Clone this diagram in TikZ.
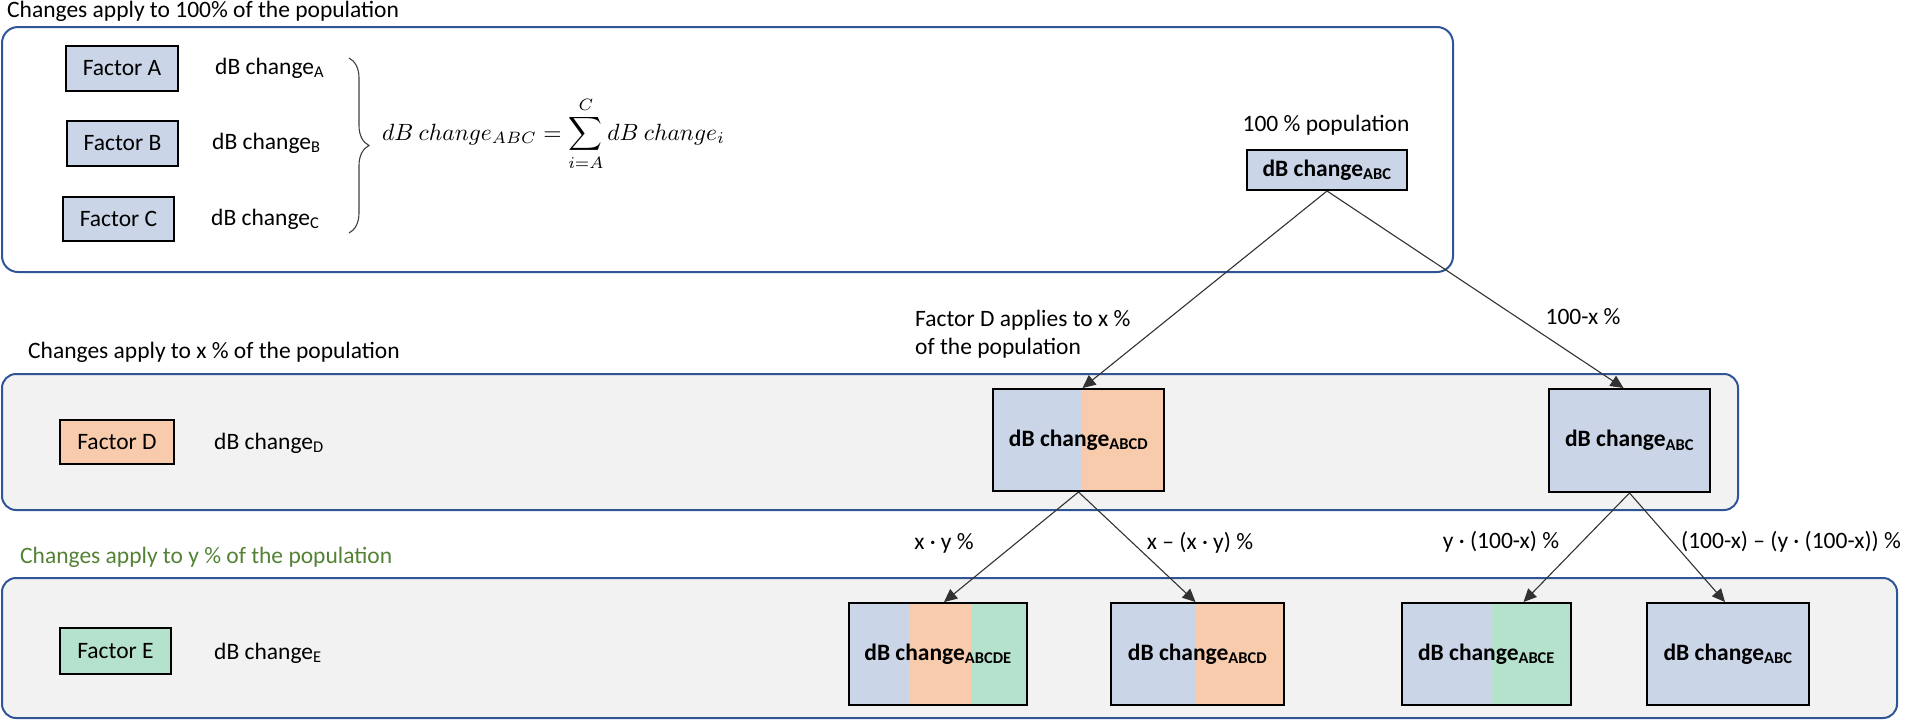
\documentclass[tikz,border=0pt]{standalone}
\usepackage{fontspec}
\setmainfont{Carlito}
\usetikzlibrary{arrows.meta,calc,decorations.pathreplacing}
\definecolor{cblue}{RGB}{203,213,232}
\definecolor{corange}{RGB}{248,203,173}
\definecolor{cgreen}{RGB}{180,226,204}
\definecolor{cpanel}{RGB}{47,85,151}
\definecolor{cpanelfill}{RGB}{242,242,242}
\definecolor{ctitlegreen}{RGB}{84,130,53}
\definecolor{carrow}{RGB}{50,50,50}
\newcommand\myfs{\fontsize{23.5}{28}\selectfont}
\tikzset{
  panel/.style={draw=cpanel, line width=2pt, rounded corners=16pt},
  fbox/.style={draw=black, line width=2pt, inner sep=0pt, font=\myfs},
  plain/.style={inner sep=0pt, font=\myfs},
  rbox/.style={draw=black, line width=2pt, inner sep=0pt, font=\myfs\bfseries, fill=cblue},
  twocol/.style 2 args={path picture={\fill[#1] ($(path picture bounding box.north west)!#2!(path picture bounding box.north east)$) rectangle (path picture bounding box.south east);}},
  threecol/.style n args={2}{path picture={
     \fill[corange] ($(path picture bounding box.north west)!#1!(path picture bounding box.north east)$) rectangle (path picture bounding box.south east);
     \fill[cgreen] ($(path picture bounding box.north west)!#2!(path picture bounding box.north east)$) rectangle (path picture bounding box.south east);}},
  arr/.style={draw=carrow, line width=1.1pt, -{Triangle[length=13pt,width=12pt]}},
}
\begin{document}
\begin{tikzpicture}[x=1pt,y=-1pt]
\useasboundingbox (0,0) rectangle (1913,721);
% panels
\draw[panel, fill=white] (2,27) rectangle (1453,272);
\draw[panel, fill=cpanelfill, rounded corners=14pt] (2,374) rectangle (1738,510);
\draw[panel, fill=cpanelfill, rounded corners=14pt] (2,578) rectangle (1897,718);
% titles
\node[plain, anchor=west] (t1) at (7,11) {Changes apply to 100\% of the population};
\node[plain, anchor=west] (t2) at (28,352) {Changes apply to x \% of the population};
\node[plain, anchor=west, text=ctitlegreen] (t3) at (20,557) {Changes apply to y \% of the population};
% factor boxes
\node[fbox, fill=cblue, minimum width=112, minimum height=45] (fa) at (122,68.5) {Factor A};
\node[fbox, fill=cblue, minimum width=111, minimum height=45] (fb) at (122.5,143.5) {Factor B};
\node[fbox, fill=cblue, minimum width=111, minimum height=44] (fc) at (118.5,219) {Factor C};
\node[fbox, fill=corange, minimum width=114, minimum height=44] (fd) at (117,442) {Factor D};
\node[fbox, fill=cgreen, minimum width=111, minimum height=46] (fe) at (115.5,651) {Factor E};
% dB change texts
\node[plain, anchor=west] (ta) at (215,68) {dB change\textsubscript{A}};
\node[plain, anchor=west] (tb) at (212,143) {dB change\textsubscript{B}};
\node[plain, anchor=west] (tc) at (211,219) {dB change\textsubscript{C}};
\node[plain, anchor=west] (td) at (214,443) {dB change\textsubscript{D}};
\node[plain, anchor=west] (te) at (214,653) {dB change\textsubscript{E}};
% brace and formula
\draw[draw=black!75, line width=1.1pt, decorate, decoration={brace, amplitude=20pt, aspect=0.5}] (349,58) -- (349,233);
\node[inner sep=0pt, anchor=west] (formula) at (382,134)
  {\scalebox{2.35}{$\displaystyle dB\ change_{ABC} = \sum_{i=A}^{C} dB\ change_i$}};
% top
\node[plain] (pop) at (1326,125) {100 \% population};
\node[rbox, minimum width=160, minimum height=40] (top) at (1327,170) {dB change\textsubscript{ABC}};
% middle
\node[rbox, twocol={corange}{0.515}, minimum width=171, minimum height=102] (m1) at (1078.5,440) {dB change\textsubscript{ABCD}};
\node[rbox, minimum width=161, minimum height=103] (m2) at (1629.5,440.5) {dB change\textsubscript{ABC}};
% bottom
\node[rbox, threecol={0.337}{0.685}, minimum width=178, minimum height=102] (b1) at (938,654) {dB change\textsubscript{ABCDE}};
\node[rbox, twocol={corange}{0.49}, minimum width=173, minimum height=102] (b2) at (1197.5,654) {dB change\textsubscript{ABCD}};
\node[rbox, twocol={cgreen}{0.524}, minimum width=169, minimum height=102] (b3) at (1486.5,654) {dB change\textsubscript{ABCE}};
\node[rbox, minimum width=162, minimum height=102] (b4) at (1728,654) {dB change\textsubscript{ABC}};
% labels
\node[plain, anchor=west, align=left] (ld) at (915,334) {Factor D applies to x \%\\of the population};
\node[plain] (l100) at (1583,317) {100-x \%};
\node[plain] (lxy) at (944,543) {x · y \%};
\node[plain] (lxmxy) at (1200,543) {x – (x · y) \%};
\node[plain] (ly100) at (1501,542) {y · (100-x) \%};
\node[plain] (lrest) at (1791,542) {(100-x) – (y · (100-x)) \%};
% arrows
\draw[arr] (top.south) -- ($(m1.north)+(4,0)$);
\draw[arr] (top.south) -- ($(m2.north)+(-6,0)$);
\draw[arr] (m1.south) -- ($(b1.north)+(6,0)$);
\draw[arr] (m1.south) -- ($(b2.north)+(-2,0)$);
\draw[arr] (m2.south) -- ($(b3.north)+(37,0)$);
\draw[arr] (m2.south) -- ($(b4.north)+(-3,0)$);
\end{tikzpicture}
\end{document}
